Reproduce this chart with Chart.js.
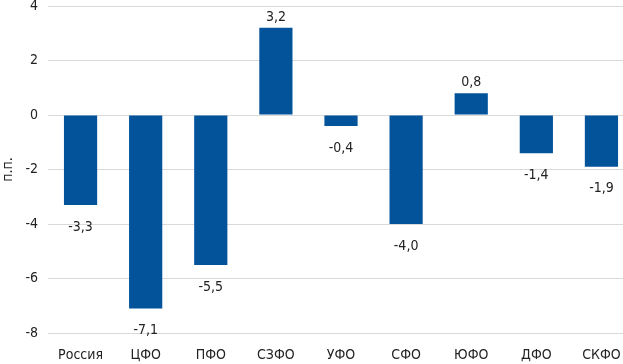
<!DOCTYPE html>
<html>
<head>
<meta charset="utf-8">
<script src="https://cdn.jsdelivr.net/npm/chart.js@4"></script>
<style>
  body { margin: 0; overflow: hidden; background: #fff; }
  #wrap { width: 634px; height: 364px; }
</style>
</head>
<body>
<div id="wrap"><canvas id="chart"></canvas></div>
<script>
const regions = ['Россия', 'ЦФО', 'ПФО', 'СЗФО', 'УФО', 'СФО', 'ЮФО', 'ДФО', 'СКФО'];
const changes = [-3.3, -7.1, -5.5, 3.2, -0.4, -4.0, 0.8, -1.4, -1.9];
const yTicks = [-8, -6, -4, -2, 0, 2, 4];

const FONT = '"Liberation Sans Narrow", "DejaVu Sans Condensed", "Noto Sans", sans-serif';
const barColor = '#03539B';

// value labels, comma as decimal separator
const valueLabels = {
    id: 'valueLabels',
    afterDatasetsDraw(chart) {
        const ctx = chart.ctx;
        const meta = chart.getDatasetMeta(0);
        ctx.save();
        ctx.font = '14px ' + FONT;
        ctx.fillStyle = '#222';
        ctx.textAlign = 'center';
        meta.data.forEach((bar, i) => {
            const v = changes[i];
            const txt = v.toFixed(1).replace('.', ',');
            if (v >= 0) {
                ctx.textBaseline = 'alphabetic';
                ctx.fillText(txt, bar.x, bar.y - 7);
            } else {
                ctx.textBaseline = 'top';
                ctx.fillText(txt, bar.x, bar.y + 15);
            }
        });
        ctx.restore();
    }
};

new Chart(document.getElementById('chart'), {
    type: 'bar',
    data: {
        labels: regions,
        datasets: [{
            data: changes,
            backgroundColor: barColor,
            categoryPercentage: 1,
            barPercentage: 0.51
        }]
    },
    options: {
        responsive: true,
        maintainAspectRatio: false,
        animation: false,
        layout: { padding: { top: 6, left: 0, right: 0, bottom: 0 } },
        plugins: { legend: { display: false }, tooltip: { enabled: false } },
        scales: {
            x: {
                grid: { display: false },
                border: { display: false },
                ticks: { color: '#222', font: { family: FONT, size: 14 }, padding: 6, maxRotation: 0 },
                afterFit: s => { s.height = 31; s.paddingLeft = 0; s.paddingRight = 0; }
            },
            y: {
                min: -8, max: 4,
                afterBuildTicks: s => { s.ticks = yTicks.map(v => ({ value: v })); },
                grid: { color: '#d9d9d9', drawTicks: false },
                border: { display: false },
                ticks: { color: '#222', font: { family: FONT, size: 14 }, padding: 10 },
                title: { display: true, text: 'п.п.', color: '#222', font: { family: FONT, size: 14 }, padding: 0 },
                afterFit: s => { s.width = 48; s.paddingTop = 0; s.paddingBottom = 0; }
            }
        }
    },
    plugins: [valueLabels]
});
</script>
</body>
</html>
